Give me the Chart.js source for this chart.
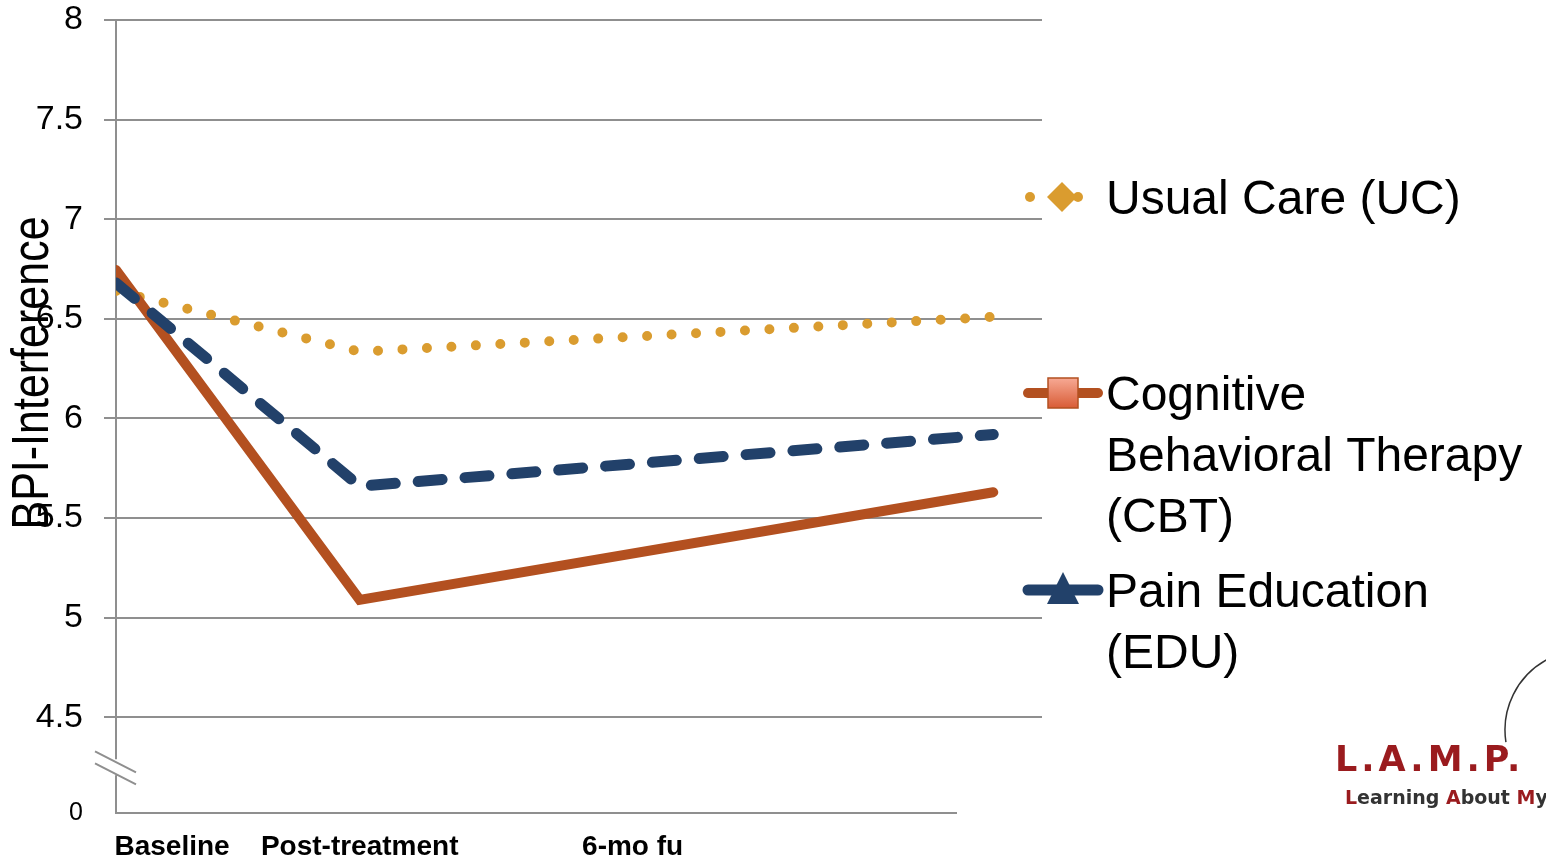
<!DOCTYPE html>
<html>
<head>
<meta charset="utf-8">
<script src="https://cdn.jsdelivr.net/npm/chart.js@4.4.1/dist/chart.umd.min.js"></script>
<style>
  html, body { margin: 0; padding: 0; background: #fff; }
  #wrap { width: 1546px; height: 866px; }
</style>
</head>
<body>
<div id="wrap"><canvas id="bpiChart" width="1546" height="866"></canvas></div>
<script>
// time in weeks since baseline
const timeWeeks = [0, 10, 36];
const ucValues = [6.64, 6.335, 6.51];
const cbtValues = [6.745, 5.09, 5.63];
const eduValues = [6.68, 5.66, 5.92];

const yTicks = [4.5, 5, 5.5, 6, 6.5, 7, 7.5, 8];
const yBreakValue = 4.02; // bottom of the broken axis, shown as "0"
const xLabels = ['Baseline', 'Post-treatment', '6-mo fu'];
const xLabelWeeks = [2.3, 10, 21.2];
const legendLines = [
  ['Usual Care (UC)'],
  ['Cognitive', 'Behavioral Therapy', '(CBT)'],
  ['Pain Education', '(EDU)']
];

const GOLD = '#DA9C2F';
const RUST = '#B35020';
const NAVY = '#22416A';
const GRID = '#8f8f8f';
const FONT = "'Liberation Sans', Arial, sans-serif";

const toPoints = (vals) => timeWeeks.map((t, i) => ({ x: t, y: vals[i] }));

const axisPlugin = {
  id: 'brokenAxis',
  beforeDatasetsDraw(chart) {
    const { ctx, chartArea } = chart;
    const y = chart.scales.y;
    const left = chartArea.left;
    const y45 = y.getPixelForValue(4.5);
    ctx.save();
    ctx.strokeStyle = GRID;
    ctx.lineWidth = 2;
    ctx.beginPath();
    ctx.moveTo(left, chartArea.top);
    ctx.lineTo(left, y45 + 42);
    ctx.moveTo(left, y45 + 58);
    ctx.lineTo(left, chartArea.bottom);
    ctx.lineTo(957, chartArea.bottom);
    // break marks
    ctx.moveTo(left - 21, y45 + 34);
    ctx.lineTo(left + 20, y45 + 55);
    ctx.moveTo(left - 21, y45 + 46);
    ctx.lineTo(left + 20, y45 + 67);
    ctx.stroke();
    ctx.restore();
  },
  afterDraw(chart) {
    const { ctx } = chart;
    ctx.save();
    // axis title, stretched like the original slide
    ctx.translate(48, 373);
    ctx.scale(1.2, 1);
    ctx.rotate(-Math.PI / 2);
    ctx.fillStyle = '#000';
    ctx.font = `43px ${FONT}`;
    ctx.textAlign = 'center';
    ctx.textBaseline = 'alphabetic';
    ctx.fillText('BPI-Interference', 0, 0);
    ctx.restore();

    // legend
    ctx.save();
    const markerY = [197, 393, 590];
    ctx.lineCap = 'round';

    // UC
    ctx.fillStyle = GOLD;
    [1030, 1078].forEach((x) => {
      ctx.beginPath();
      ctx.arc(x, markerY[0], 5, 0, Math.PI * 2);
      ctx.fill();
    });
    ctx.beginPath();
    ctx.moveTo(1062, markerY[0] - 15);
    ctx.lineTo(1077, markerY[0]);
    ctx.lineTo(1062, markerY[0] + 15);
    ctx.lineTo(1047, markerY[0]);
    ctx.closePath();
    ctx.fill();

    // CBT
    ctx.strokeStyle = RUST;
    ctx.lineWidth = 10;
    ctx.beginPath();
    ctx.moveTo(1028, markerY[1]);
    ctx.lineTo(1098, markerY[1]);
    ctx.stroke();
    const grad = ctx.createLinearGradient(0, markerY[1] - 15, 0, markerY[1] + 15);
    grad.addColorStop(0, '#F7A994');
    grad.addColorStop(1, '#D85C36');
    ctx.fillStyle = grad;
    ctx.fillRect(1048, markerY[1] - 15, 30, 30);
    ctx.lineWidth = 1.5;
    ctx.strokeRect(1048, markerY[1] - 15, 30, 30);

    // EDU
    ctx.strokeStyle = NAVY;
    ctx.lineWidth = 11;
    ctx.beginPath();
    ctx.moveTo(1028, markerY[2]);
    ctx.lineTo(1098, markerY[2]);
    ctx.stroke();
    ctx.fillStyle = NAVY;
    ctx.beginPath();
    ctx.moveTo(1063, markerY[2] - 18);
    ctx.lineTo(1079, markerY[2] + 14);
    ctx.lineTo(1047, markerY[2] + 14);
    ctx.closePath();
    ctx.fill();

    ctx.fillStyle = '#000';
    ctx.font = `48px ${FONT}`;
    ctx.textAlign = 'left';
    ctx.textBaseline = 'alphabetic';
    legendLines.forEach((lines, i) => {
      lines.forEach((line, j) => {
        ctx.fillText(line, 1106, markerY[i] + 17 + j * 61);
      });
    });
    ctx.restore();

    // logo
    ctx.save();
    ctx.strokeStyle = '#333';
    ctx.lineWidth = 1.5;
    ctx.beginPath();
    ctx.arc(1585, 730, 80, 2.99, 4.21);
    ctx.stroke();
    ctx.fillStyle = '#9A1B1E';
    ctx.font = "bold 35px 'DejaVu Sans', sans-serif";
    ctx.letterSpacing = '4px';
    ctx.fillText('L.A.M.P.', 1335, 771);
    ctx.letterSpacing = '0px';
    ctx.font = "bold 19px 'DejaVu Sans', sans-serif";
    let x = 1345;
    [['L', '#9A1B1E'], ['earning ', '#333'], ['A', '#9A1B1E'], ['bout ', '#333'], ['M', '#9A1B1E'], ['y', '#333']]
      .forEach(([txt, col]) => {
        ctx.fillStyle = col;
        ctx.fillText(txt, x, 804);
        x += ctx.measureText(txt).width;
      });
    ctx.restore();
  }
};

const ctx = document.getElementById('bpiChart').getContext('2d');
new Chart(ctx, {
  type: 'line',
  data: {
    datasets: [
      {
        label: 'Usual Care (UC)',
        data: toPoints(ucValues),
        borderColor: GOLD,
        borderWidth: 10,
        borderDash: [0, 24.5],
        borderCapStyle: 'round',
        pointRadius: 0,
        order: 3
      },
      {
        label: 'Cognitive Behavioral Therapy (CBT)',
        data: toPoints(cbtValues),
        borderColor: RUST,
        borderWidth: 10,
        borderCapStyle: 'round',
        pointRadius: 0,
        order: 2
      },
      {
        label: 'Pain Education (EDU)',
        data: toPoints(eduValues),
        borderColor: NAVY,
        borderWidth: 11,
        borderDash: [24, 23],
        borderCapStyle: 'round',
        pointRadius: 0,
        order: 1
      }
    ]
  },
  options: {
    responsive: false,
    animation: false,
    devicePixelRatio: 1,
    layout: { padding: { top: 20, right: 504, bottom: 0, left: 0 } },
    scales: {
      x: {
        type: 'linear',
        min: 0,
        max: 38,
        afterBuildTicks: (scale) => {
          scale.ticks = xLabelWeeks.map((v) => ({ value: v }));
        },
        afterFit: (scale) => {
          scale.height = 53;
          scale.paddingLeft = 0;
          scale.paddingRight = 0;
        },
        ticks: {
          autoSkip: false,
          maxRotation: 0,
          padding: 17,
          color: '#000',
          font: { family: FONT, size: 28, weight: 'bold' },
          callback: (value, index) => xLabels[index]
        },
        grid: { display: false, drawTicks: false },
        border: { display: false }
      },
      y: {
        type: 'linear',
        min: yBreakValue,
        max: 8,
        afterBuildTicks: (scale) => {
          scale.ticks = [yBreakValue, ...yTicks].map((v) => ({ value: v }));
        },
        afterFit: (scale) => {
          scale.width = 116;
          scale.paddingTop = 0;
          scale.paddingBottom = 0;
        },
        ticks: {
          padding: 21,
          color: '#000',
          font: (c) => ({ family: FONT, size: c.tick && c.tick.value === yBreakValue ? 25 : 34 }),
          callback: (value) => (value === yBreakValue ? '0' : String(value))
        },
        grid: {
          color: (c) => (c.tick && c.tick.value === yBreakValue ? 'rgba(0,0,0,0)' : GRID),
          lineWidth: 2,
          tickLength: 12
        },
        border: { display: false }
      }
    },
    plugins: {
      legend: { display: false },
      tooltip: { enabled: false }
    }
  },
  plugins: [axisPlugin]
});
</script>
</body>
</html>
